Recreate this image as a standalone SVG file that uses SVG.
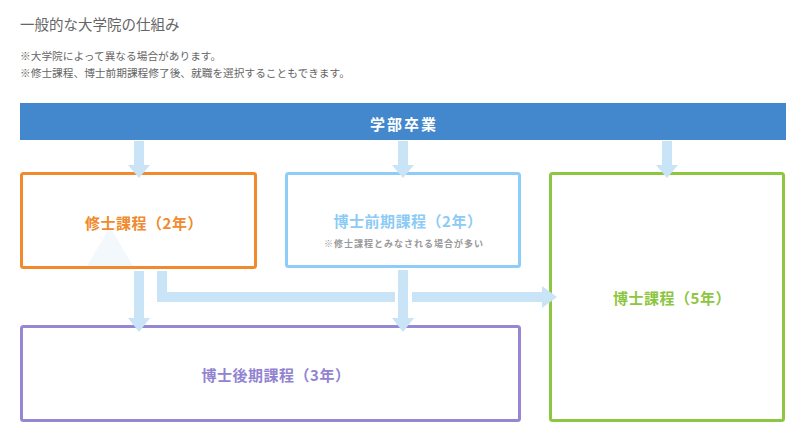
<svg xmlns="http://www.w3.org/2000/svg" width="800" height="442" viewBox="0 0 800 442">
<style>
text{font-family:"Noto Sans CJK JP","Noto Sans",sans-serif;dominant-baseline:central}
.gray{fill:#666}
.lbl{font-size:15px;font-weight:bold;text-anchor:middle;letter-spacing:0.5px}
.box{fill:#fff;stroke-width:3}
.arr{fill:#c9e4f6}
</style>
<rect width="800" height="442" fill="#fff"/>
<text class="gray" x="20" y="23" font-size="14.5">一般的な大学院の仕組み</text>
<text class="gray" x="20" y="55" font-size="10.7">※大学院によって異なる場合があります。</text>
<text class="gray" x="20" y="72" font-size="10.7">※修士課程、博士前期課程修了後、就職を選択することもできます。</text>

<g id="node-gakubu">
<rect x="20" y="103" width="766" height="37" fill="#4387cd"/>
<text x="404" y="123" font-size="15" font-weight="bold" fill="#fff" text-anchor="middle" letter-spacing="2">学部卒業</text>
</g>
<g id="node-shushi">
<rect class="box" x="21.5" y="173.5" width="234" height="94" rx="2" stroke="#f08a2c"/>
<polygon points="87,266 133,266 110,227" fill="#f3f8fd"/>
<text class="lbl" x="144" y="222" fill="#f08a2c">修士課程（2年）</text>
</g>
<g id="node-zenki">
<rect class="box" x="286.5" y="173.5" width="233" height="93" rx="2" stroke="#8ecdfa"/>
<text class="lbl" x="408" y="220" fill="#8ccbf6">博士前期課程（2年）</text>
<text x="404" y="243" font-size="9" font-weight="bold" fill="#999" text-anchor="middle" letter-spacing="1">※修士課程とみなされる場合が多い</text>
</g>
<g id="node-hakase">
<rect class="box" x="550.5" y="173.5" width="233" height="247" rx="2" stroke="#8dc641"/>
<text class="lbl" x="672" y="297" fill="#8cc63f">博士課程（5年）</text>
</g>
<g id="node-kouki">
<rect class="box" x="21.5" y="326.5" width="498" height="94" rx="2" stroke="#9786d3"/>
<text class="lbl" x="276" y="374" fill="#9283d0">博士後期課程（3年）</text>
</g>

<g id="connectors" class="arr">
<path d="M134 141H144V165H150L139 178L128 165H134Z"/>
<path d="M398 141H408V165H414L403 178L392 165H398Z"/>
<path d="M662 141H672V165H678L667 178L656 165H662Z"/>
<path d="M134 271H144V318H150L139 332L128 318H134Z"/>
<path d="M398 270H408V318H414L403 332L392 318H398Z"/>
<path d="M157 271H167V292H395V302H157Z"/>
<path d="M412 292H542V286L557 297L542 308V302H412Z"/>
</g>
</svg>
